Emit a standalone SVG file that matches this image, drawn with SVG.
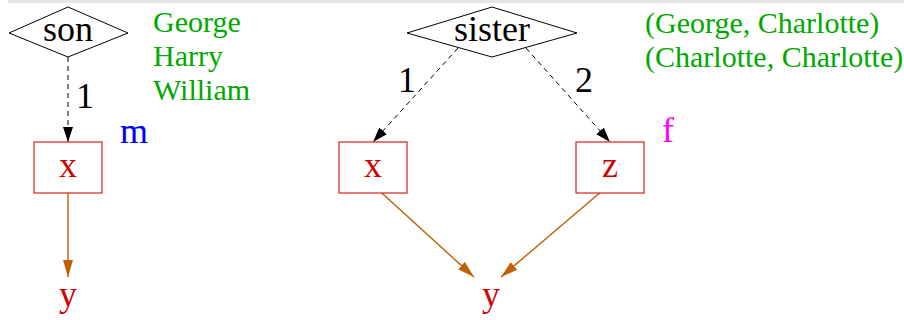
<svg xmlns="http://www.w3.org/2000/svg" width="904" height="320" viewBox="0 0 904 320">
<style>
.t{font-family:'Liberation Serif','Tinos','Times New Roman','Nimbus Roman','DejaVu Serif',serif;}
.lbl{font-size:36px;fill:#000;text-anchor:middle;}
.var{font-size:36px;fill:#d00000;text-anchor:middle;}
.grn{font-size:30px;fill:#00a800;}
.dia{fill:#fff;stroke:#000;stroke-width:1;}
.box{fill:#fff;stroke:#d42020;stroke-width:1.2;}
.dash{fill:none;stroke:#000;stroke-width:1;stroke-dasharray:5,4;}
.org{fill:none;stroke:#c06000;stroke-width:1.4;}
</style>
<defs>
<marker id="ab" markerUnits="userSpaceOnUse" markerWidth="16" markerHeight="11" refX="15" refY="5" orient="auto">
<path d="M0,0 L15,5 L0,10 Z" fill="#000"/>
</marker>
<marker id="ao" markerUnits="userSpaceOnUse" markerWidth="18" markerHeight="11" refX="17" refY="5" orient="auto">
<path d="M0,0 L17,5 L0,10 Z" fill="#c06000"/>
</marker>
</defs>
<rect x="8" y="0" width="896" height="3" fill="#e4e4e4"/>
<g font-family="'Liberation Serif', 'Times New Roman', serif">
<g id="connectors">
<line class="dash" x1="68" y1="57" x2="68" y2="142" marker-end="url(#ab)"/>
<line class="dash" x1="458" y1="48" x2="373" y2="142" marker-end="url(#ab)"/>
<line class="dash" x1="526" y1="48" x2="610" y2="142" marker-end="url(#ab)"/>
<line class="org" x1="68" y1="186" x2="68" y2="277" marker-end="url(#ao)"/>
<line class="org" x1="373" y1="185" x2="474" y2="277" marker-end="url(#ao)"/>
<line class="org" x1="609" y1="185" x2="501" y2="277" marker-end="url(#ao)"/>
<text class="t lbl" x="85" y="108">1</text>
<text class="t lbl" x="407" y="92">1</text>
<text class="t lbl" x="584" y="92">2</text>
</g>
<g id="son">
<polygon class="dia" points="9,33 68,7 128,33 68,57"/>
<text class="t lbl" x="68" y="41">son</text>
</g>
<g id="son-values">
<text class="t grn" x="153" y="32">George</text>
<text class="t grn" x="153" y="66">Harry</text>
<text class="t grn" x="153" y="100">William</text>
</g>
<g id="sister">
<polygon class="dia" points="407,33 492,7 577,33 492,57"/>
<text class="t lbl" x="492" y="41">sister</text>
</g>
<g id="sister-values">
<text class="t grn" x="645" y="33">(George, Charlotte)</text>
<text class="t grn" x="645" y="67">(Charlotte, Charlotte)</text>
</g>
<g id="x1">
<rect class="box" x="34" y="142" width="68" height="51"/>
<text class="t var" x="68" y="177">x</text>
</g>
<g id="m"><text class="t" x="120" y="143" font-size="36" fill="#0000ff">m</text></g>
<g id="y1"><text class="t var" x="68" y="306">y</text></g>
<g id="x2">
<rect class="box" x="339" y="142" width="68" height="51"/>
<text class="t var" x="373" y="177">x</text>
</g>
<g id="z">
<rect class="box" x="576" y="142" width="68" height="51"/>
<text class="t var" x="610" y="177">z</text>
</g>
<g id="f"><text class="t" x="662" y="142" font-size="36" fill="#ff00ff">f</text></g>
<g id="y2"><text class="t var" x="491" y="306">y</text></g>
</g>
</svg>
